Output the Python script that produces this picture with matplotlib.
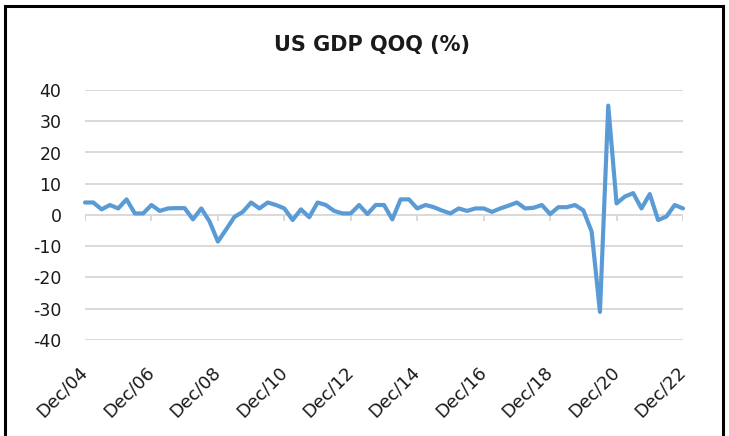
#!/usr/bin/env python
#
# US GDP QoQ line chart
#
import matplotlib
matplotlib.use("Agg")
import matplotlib.pyplot as plt
from matplotlib.patches import Rectangle
import pandas as pd

# Data #
quarters = pd.date_range("2004-12-31", "2022-12-31", freq="QE")
gdp_qoq = [4.0, 4.0, 1.8, 3.2, 2.1, 5.0, 0.5, 0.5,
           3.2, 1.3, 2.1, 2.2, 2.2, -1.4, 2.1, -2.1,
           -8.5, -4.6, -0.6, 1.0, 4.0, 2.1, 4.0, 3.2,
           2.1, -1.6, 1.8, -0.7, 4.0, 3.2, 1.3, 0.5,
           0.5, 3.2, 0.3, 3.2, 3.2, -1.4, 5.0, 5.0,
           2.1, 3.2, 2.5, 1.4, 0.5, 2.1, 1.3, 2.1,
           2.1, 1.0, 2.1, 3.0, 4.0, 2.1, 2.3, 3.2,
           0.3, 2.5, 2.5, 3.2, 1.5, -5.3, -31.0, 35.0,
           3.7, 5.9, 7.0, 2.1, 6.7, -1.6, -0.5, 3.2,
           2.1]
tick_labels = ["Dec/04", "Dec/06", "Dec/08", "Dec/10", "Dec/12",
               "Dec/14", "Dec/16", "Dec/18", "Dec/20", "Dec/22"]
y_ticks = [40, 30, 20, 10, 0, -10, -20, -30, -40]

# Style #
line_color = "#5B9BD5"
grid_color = "#D9D9D9"
text_color = "#1A1A1A"
plt.rcParams["font.family"] = ["DejaVu Sans"]
plt.rcParams["axes.unicode_minus"] = False

fig = plt.figure(figsize=(7.29, 4.36), dpi=100)
ax = fig.add_axes([85 / 729, 96 / 436, 598 / 729, 250 / 436])

x = list(range(len(quarters)))
# a tick every second December
tick_pos = [i for i, q in enumerate(quarters) if q.month == 12 and q.year % 2 == 0]

# gridlines + zero axis with small ticks
for v in y_ticks:
    ax.axhline(v, color=grid_color, lw=1.4, zorder=1)
ax.vlines(tick_pos, 0, -2.0, color=grid_color, lw=1.4, zorder=1)

ax.plot(x, gdp_qoq, color=line_color, lw=3.0, solid_joinstyle="round",
        solid_capstyle="round", zorder=3, clip_on=False)

ax.set_xlim(0, len(quarters) - 1)
ax.set_ylim(-40, 40)
ax.set_yticks(y_ticks)
ax.set_yticklabels([str(v) for v in y_ticks])
ax.set_xticks(tick_pos)
ax.set_xticklabels(tick_labels, rotation=45, ha="right", va="center",
                   rotation_mode="anchor")
ax.tick_params(axis="y", length=0, pad=17, labelsize=12.5, labelcolor=text_color)
ax.tick_params(axis="x", length=0, pad=21, labelsize=13, labelcolor=text_color)
for lbl in ax.get_xticklabels():
    lbl.set_x(lbl.get_position()[0])
for s in ax.spines.values():
    s.set_visible(False)

fig.text(0.51, 1 - 45.5 / 436, "US GDP QOQ (%)", ha="center", va="center",
         fontsize=15, fontweight="bold", color=text_color)

# outer frame of the chart
fig.patches.append(Rectangle((4.5 / 729, -0.1), 718 / 729, 1.1 - 6.5 / 436,
                             transform=fig.transFigure, fill=False,
                             edgecolor="black", lw=2.2))

fig.savefig("out.png", dpi=100, facecolor="white")
